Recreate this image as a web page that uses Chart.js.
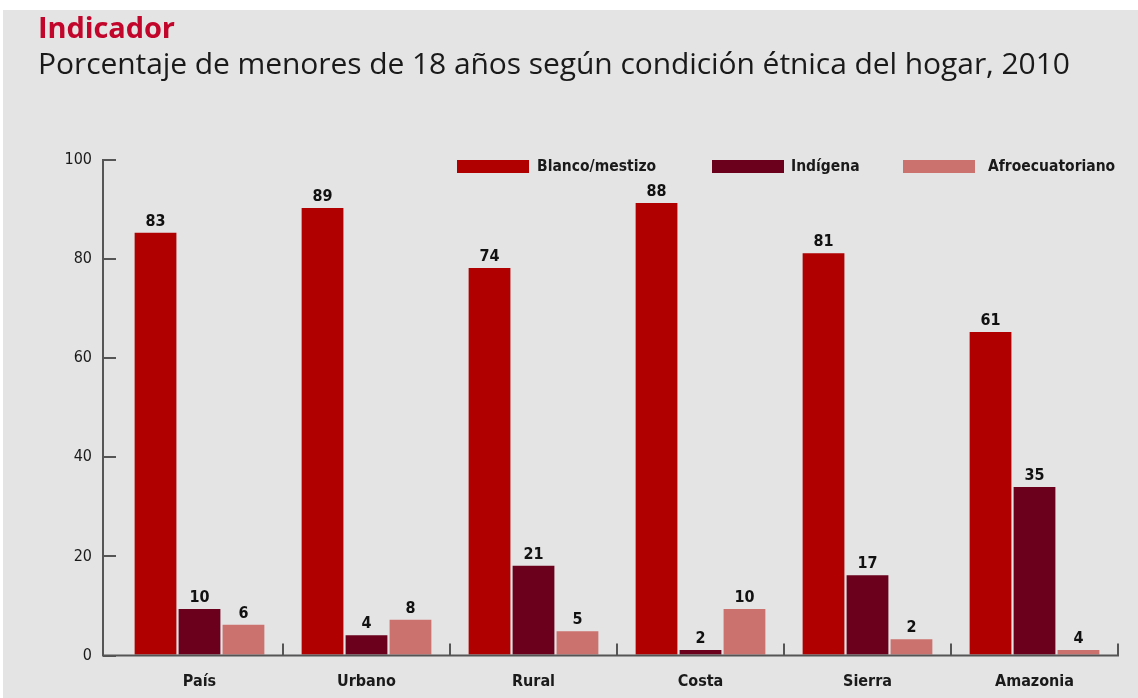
<!DOCTYPE html>
<html>
<head>
<meta charset="utf-8">
<script src="https://cdn.jsdelivr.net/npm/chart.js@4"></script>
<style>
  html, body { margin: 0; padding: 0; background: #fff; }
  .wrap { position: relative; width: 1138px; height: 698px; overflow: hidden; }
  .bg { position: absolute; left: 3px; top: 10px; right: 0; bottom: 0; background: #e4e4e4; }
  canvas { position: absolute; left: 0; top: 0; }
  .title { position: absolute; left: 38px; top: 12px; font: bold 29px/1 'Open Sans', sans-serif; color: #c2062b; letter-spacing: -0.1px; white-space: nowrap; }
  .subtitle { position: absolute; left: 38px; top: 48px; font: 30px/1 'Open Sans', sans-serif; color: #1a1a1a; letter-spacing: -0.07px; white-space: nowrap; }
</style>
</head>
<body>
<div class="wrap">
  <div class="bg"></div>
  <canvas id="chart" width="1138" height="698"></canvas>
  <div class="title">Indicador</div>
  <div class="subtitle">Porcentaje de menores de 18 años según condición étnica del hogar, 2010</div>
</div>
<script>
const categories = ['País', 'Urbano', 'Rural', 'Costa', 'Sierra', 'Amazonia'];
const seriesNames = ['Blanco/mestizo', 'Indígena', 'Afroecuatoriano'];
const seriesColors = ['#b10000', '#6a001c', '#cc726e'];

// bar heights as drawn in the picture
const blancoBars = [85.3, 90.3, 78.2, 91.3, 81.2, 65.3];
const indigenaBars = [9.4, 4.1, 18.1, 1.1, 16.2, 34.0];
const afroBars = [6.2, 7.2, 4.9, 9.4, 3.3, 1.1];

// numbers printed above the bars
const blancoLabels = ['83', '89', '74', '88', '81', '61'];
const indigenaLabels = ['10', '4', '21', '2', '17', '35'];
const afroLabels = ['6', '8', '5', '10', '2', '4'];

const yTicks = [0, 20, 40, 60, 80, 100];

const barData = [blancoBars, indigenaBars, afroBars];
const barLabels = [blancoLabels, indigenaLabels, afroLabels];

const FONT = "'Liberation Sans Narrow', 'DejaVu Sans Condensed', 'Roboto', sans-serif";
const axisColor = '#555';

const axesPlugin = {
  id: 'axes',
  afterDraw(chart) {
    const { ctx, chartArea, scales } = chart;
    const y = scales.y;
    const axisX = chartArea.left - 13;
    const y0 = y.getPixelForValue(0);
    ctx.save();
    ctx.strokeStyle = axisColor;
    ctx.lineWidth = 2;
    ctx.beginPath();
    ctx.moveTo(axisX, y.getPixelForValue(100) - 1);
    ctx.lineTo(axisX, y0);
    ctx.lineTo(chartArea.right + 1, y0);
    ctx.stroke();
    // category separators pointing up
    const w = (chartArea.right - chartArea.left) / categories.length;
    for (let i = 1; i <= categories.length; i++) {
      const px = Math.round(chartArea.left + i * w);
      ctx.beginPath();
      ctx.moveTo(px, y0);
      ctx.lineTo(px, y0 - 12);
      ctx.stroke();
    }
    ctx.restore();
  }
};

const valueLabels = {
  id: 'valueLabels',
  afterDatasetsDraw(chart) {
    const { ctx } = chart;
    ctx.save();
    ctx.font = 'bold 16px ' + FONT;
    ctx.fillStyle = '#111';
    ctx.textAlign = 'center';
    ctx.textBaseline = 'bottom';
    chart.data.datasets.forEach((ds, di) => {
      chart.getDatasetMeta(di).data.forEach((bar, i) => {
        ctx.fillText(barLabels[di][i], bar.x, bar.y - 3);
      });
    });
    ctx.restore();
  }
};

// legend drawn inside the plot, at the top right
const legendBoxX = [457, 712, 903];
const legendTextX = [537, 791, 988];
const legendPlugin = {
  id: 'customLegend',
  afterDraw(chart) {
    const { ctx } = chart;
    ctx.save();
    ctx.font = 'bold 15.5px ' + FONT;
    ctx.textBaseline = 'middle';
    const top = 160;
    chart.data.datasets.forEach((ds, i) => {
      ctx.fillStyle = ds.backgroundColor;
      ctx.fillRect(legendBoxX[i], top, 72, 13);
      ctx.fillStyle = '#1a1a1a';
      ctx.fillText(ds.label, legendTextX[i], top + 7);
    });
    ctx.restore();
  }
};

new Chart(document.getElementById('chart'), {
  type: 'bar',
  data: {
    labels: categories,
    datasets: seriesNames.map((name, i) => ({
      label: name,
      data: barData[i],
      backgroundColor: seriesColors[i],
      borderWidth: 0,
      categoryPercentage: 0.79,
      barPercentage: 0.95
    }))
  },
  options: {
    responsive: false,
    animation: false,
    devicePixelRatio: 1,
    layout: { padding: { top: 160, right: 20, left: 0, bottom: 0 } },
    plugins: {
      legend: { display: false },
      tooltip: { enabled: false }
    },
    scales: {
      x: {
        grid: { display: false, drawTicks: false },
        border: { display: false },
        ticks: {
          padding: 17,
          color: '#1a1a1a',
          font: { family: FONT, size: 16, weight: 'bold' }
        },
        afterFit(scale) { scale.height = 698 - 655.5; }
      },
      y: {
        min: 0,
        max: 100,
        afterBuildTicks(scale) { scale.ticks = yTicks.map(v => ({ value: v })); },
        grid: { drawOnChartArea: false, drawTicks: true, tickLength: 13, color: axisColor, lineWidth: 2 },
        border: { display: false },
        ticks: {
          padding: 11,
          color: '#1a1a1a',
          font: { family: FONT, size: 16 }
        },
        afterFit(scale) { scale.width = 116; }
      }
    }
  },
  plugins: [axesPlugin, valueLabels, legendPlugin]
});
</script>
</body>
</html>
